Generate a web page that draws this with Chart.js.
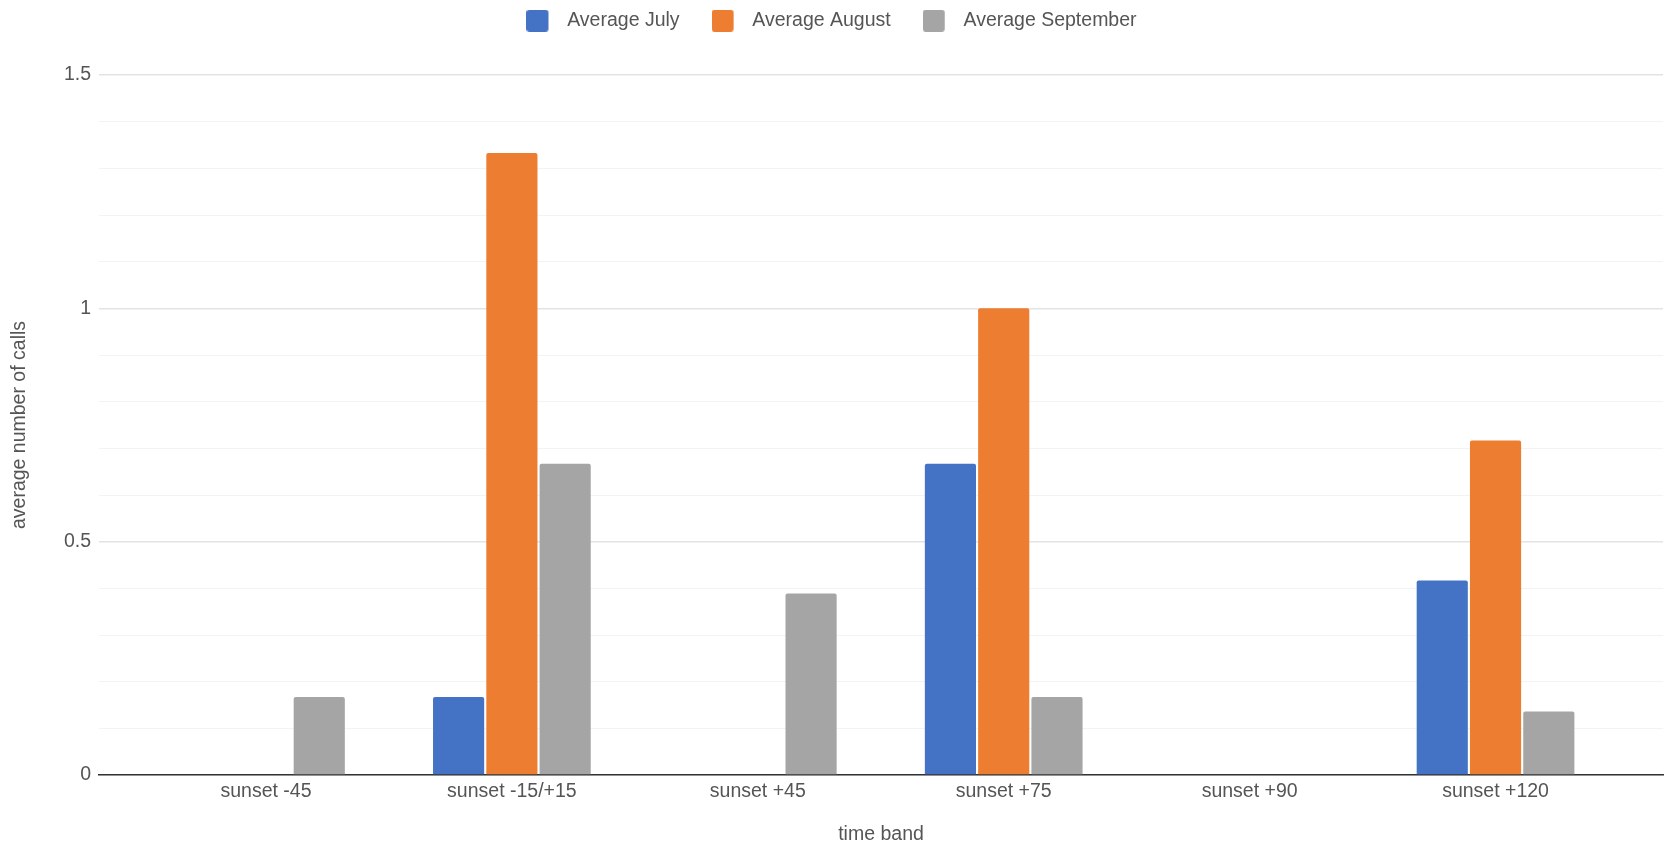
<!DOCTYPE html>
<html>
<head>
<meta charset="utf-8">
<script src="https://cdn.jsdelivr.net/npm/chart.js@4"></script>
<style>
  html, body { margin: 0; padding: 0; background: #fff; }
  #wrap { width: 1671px; height: 846px; }
</style>
</head>
<body>
<div id="wrap"><canvas id="c" width="1671" height="846"></canvas></div>
<script>
const categories = ['sunset -45', 'sunset -15/+15', 'sunset +45', 'sunset +75', 'sunset +90', 'sunset +120'];
const seriesNames = ['Average July', 'Average August', 'Average September'];
const julyValues = [0, 0.167, 0, 0.667, 0, 0.417];
const augustValues = [0, 1.333, 0, 1.0, 0, 0.717];
const septemberValues = [0.167, 0.667, 0.389, 0.167, 0, 0.136];
const yMajorTicks = [0, 0.5, 1, 1.5];
const seriesColors = ['#4472C4', '#ED7D31', '#A5A5A5'];

const FONT = '"Liberation Sans", Arial, sans-serif';
const FS = 19.5;

function legendSwatch(color) {
  const cv = document.createElement('canvas');
  cv.width = 31; cv.height = 22;
  const g = cv.getContext('2d');
  g.fillStyle = color;
  g.beginPath();
  if (g.roundRect) g.roundRect(0, 0, 22, 22, 3); else g.rect(0, 0, 22, 22);
  g.fill();
  return cv;
}
const swatches = seriesColors.map(legendSwatch);

const legendHeightPlugin = {
  id: 'legendHeight',
  beforeInit(chart) {
    const lg = chart.legend;
    if (!lg) return;
    const origFit = lg.fit.bind(lg);
    lg.fit = function () { origFit(); this.height = 96; };
  }
};

function isMajor(v) {
  return yMajorTicks.some(m => Math.abs(m - v) < 1e-6);
}

new Chart(document.getElementById('c'), {
  type: 'bar',
  data: {
    labels: categories,
    datasets: [
      { label: seriesNames[0], data: julyValues, backgroundColor: seriesColors[0] },
      { label: seriesNames[1], data: augustValues, backgroundColor: seriesColors[1] },
      { label: seriesNames[2], data: septemberValues, backgroundColor: seriesColors[2] }
    ]
  },
  plugins: [legendHeightPlugin],
  options: {
    responsive: false,
    animation: false,
    devicePixelRatio: 1,
    layout: { padding: { top: -21, right: 8, bottom: 0, left: 0 } },
    datasets: {
      bar: { categoryPercentage: 0.65, barPercentage: 0.96, borderRadius: 2, borderSkipped: 'bottom' }
    },
    plugins: {
      legend: {
        position: 'top',
        align: 'center',
        labels: {
          usePointStyle: true, pointStyleWidth: 31, boxHeight: 19, padding: 32,
          color: '#555', font: { family: FONT, size: FS },
          generateLabels(chart) {
            const items = Chart.defaults.plugins.legend.labels.generateLabels(chart);
            items.forEach((it, i) => { it.pointStyle = swatches[i]; });
            return items;
          }
        }
      },
      tooltip: { enabled: false }
    },
    scales: {
      x: {
        afterBuildTicks(scale) { scale._startValue = -0.679; scale._valueRange = 6.36; },
        afterFit(scale) { scale.height = 71; },
        grid: { display: false, drawTicks: false },
        border: { display: true, color: '#333', width: 1.5 },
        ticks: { color: '#555', font: { family: FONT, size: FS }, padding: 5, maxRotation: 0, autoSkip: false },
        title: { display: true, text: 'time band', color: '#555', font: { family: FONT, size: FS }, padding: { top: 0, bottom: 0 } }
      },
      y: {
        min: 0, max: 1.5,
        afterFit(scale) { scale.width = 99; },
        grid: {
          drawTicks: false,
          color: ctx => (ctx.tick && isMajor(ctx.tick.value)) ? '#e3e3e3' : '#f3f3f3',
          lineWidth: ctx => (ctx.tick && isMajor(ctx.tick.value)) ? 1.5 : 1
        },
        border: { display: false },
        ticks: {
          stepSize: 0.1, autoSkip: false, padding: 8,
          color: '#555', font: { family: FONT, size: FS },
          callback: v => isMajor(v) ? String(Math.round(v * 10) / 10) : ''
        },
        title: { display: true, text: 'average number of calls', color: '#555', font: { family: FONT, size: FS }, padding: { top: 8, bottom: 0 } }
      }
    }
  }
});
</script>
</body>
</html>
